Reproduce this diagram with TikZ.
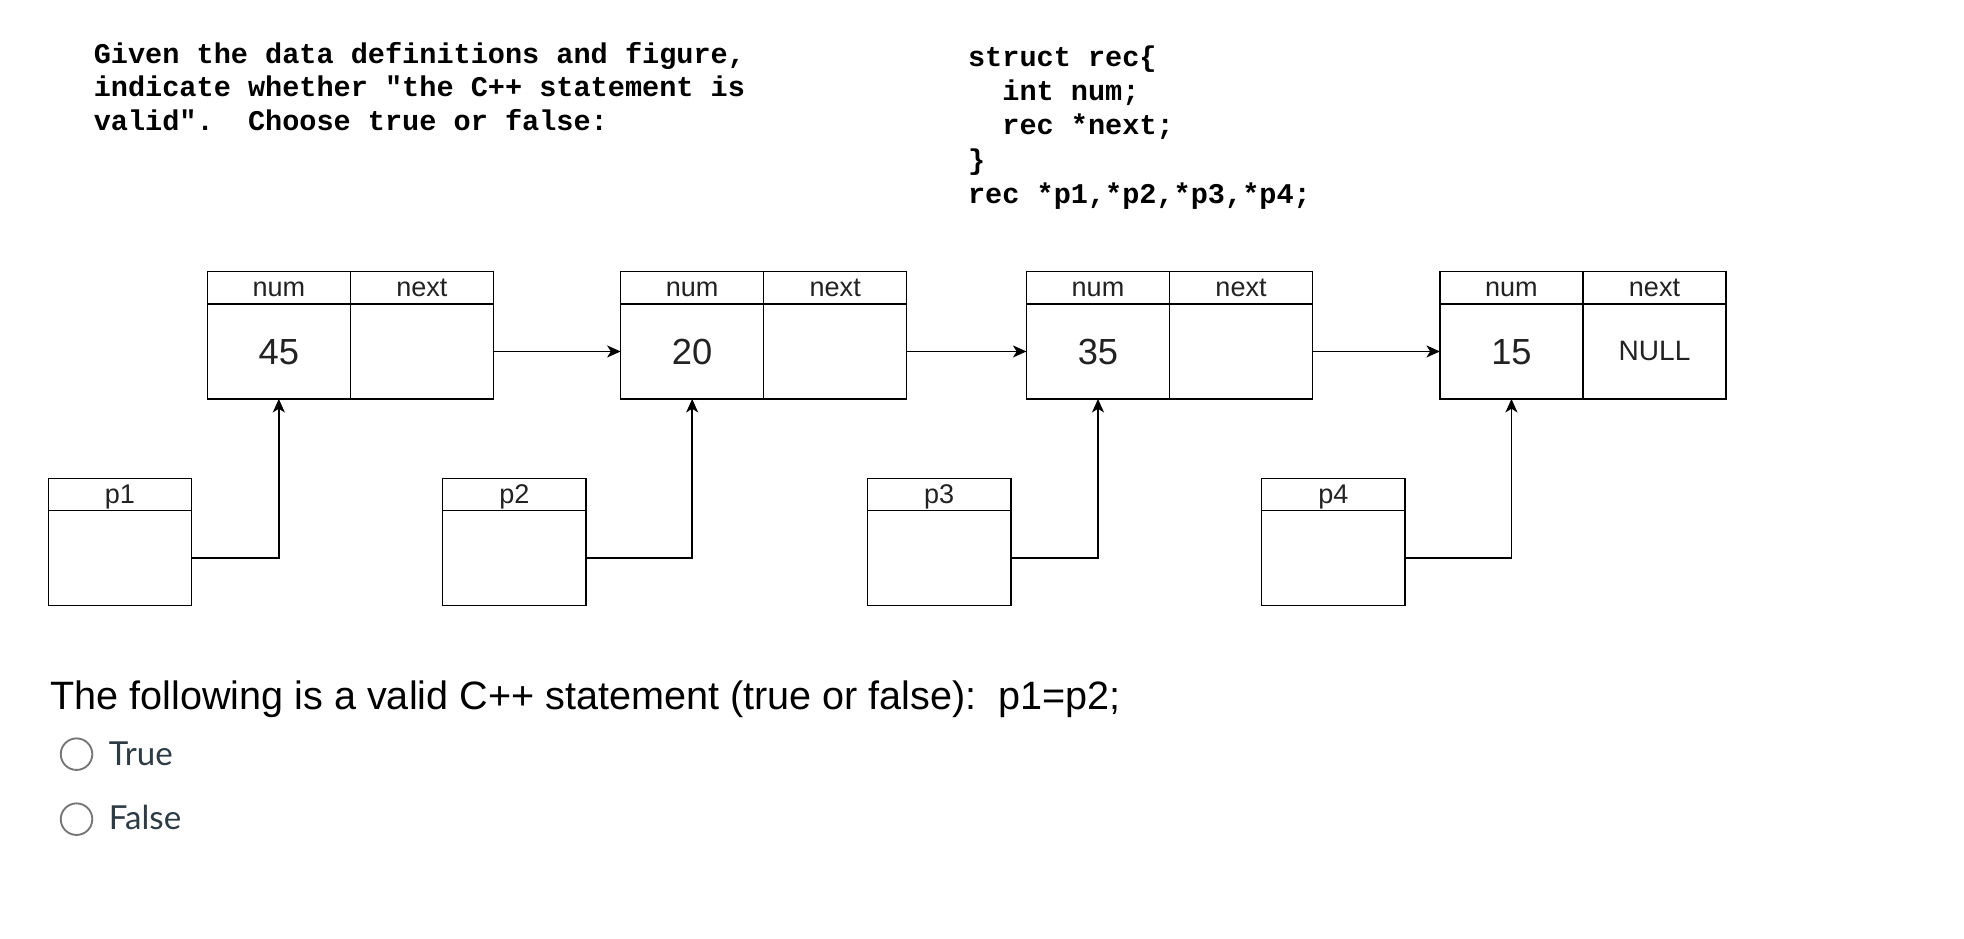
\documentclass[tikz,border=0pt]{standalone}
\usepackage{fontspec}
\setmainfont{Liberation Sans}
\newfontfamily\codefont{Liberation Mono}
\newfontfamily\latofont{Lato}
\usetikzlibrary{arrows.meta}
\definecolor{radiogray}{RGB}{118,118,118}
\definecolor{canvastext}{HTML}{2D3B45}
\definecolor{lbltext}{HTML}{222222}
\begin{document}
\begin{tikzpicture}[x=0.5pt,y=-0.5pt,
  cell/.style={draw, line width=0.55pt, inner sep=0pt, outer sep=0pt, minimum width=57.1pt},
  hcell/.style={cell, minimum height=12.9pt},
  bcell/.style={cell, minimum height=37.9pt},
  pcell/.style={draw, line width=0.55pt, inner sep=0pt, outer sep=0pt, minimum width=57.2pt},
  phcell/.style={pcell, minimum height=12.9pt},
  pbcell/.style={pcell, minimum height=37.9pt},
  lbl/.style={inner sep=0pt, anchor=base, text=lbltext, font=\fontsize{10.8}{12}\selectfont},
  val/.style={inner sep=0pt, anchor=base, text=lbltext, font=\fontsize{14.5}{16}\selectfont},
  nullval/.style={inner sep=0pt, anchor=base, text=lbltext, font=\fontsize{11.2}{13}\selectfont},
  code/.style={inner sep=0pt, anchor=base west, font=\codefont\bfseries\fontsize{11.4}{13}\selectfont},
  stmt/.style={inner sep=0pt, anchor=base west, font=\fontsize{15.8}{18}\selectfont},
  opt/.style={inner sep=0pt, anchor=base west, text=canvastext, font=\latofont\fontsize{13.2}{15}\selectfont},
  radio/.style={circle, draw=radiogray, line width=0.75pt, inner sep=0pt, minimum size=12.6pt},
  arr/.style={line width=0.55pt, -{Stealth[length=5.4pt, width=4.8pt, inset=1.5pt]}},
  conn/.style={line width=0.55pt}
]
\useasboundingbox (0,0) rectangle (1568,748.9);

% problem text
\node[code] (q1) at (74.5,50.6) {Given the data definitions and figure,};
\node[code] (q2) at (74.5,77.2) {indicate whether "the C++ statement is};
\node[code] (q3) at (74.5,103.8) {valid".\ \ Choose true or false:};

% struct definition
\node[code] (s1) at (772.5,52.7) {struct rec\{};
\node[code] (s2) at (799.9,80.2) {int num;};
\node[code] (s3) at (799.9,107.7) {rec *next;};
\node[code] (s4) at (772.5,135.1) {\}};
\node[code] (s5) at (772.5,162.5) {rec *p1,*p2,*p3,*p4;};

% records
\foreach \i/\L/\v in {1/165.5/45, 2/495.5/20, 3/819.5/35, 4/1149.6/15}{
  \node[hcell] (hn\i) at (\L+57.1,229.8) {};
  \node[hcell] (hx\i) at (\L+171.3,229.8) {};
  \node[bcell] (vn\i) at (\L+57.1,280.6) {};
  \node[bcell] (vx\i) at (\L+171.3,280.6) {};
  \node[lbl] (tn\i) at (\L+57.1,236.8) {num};
  \node[lbl] (tx\i) at (\L+171.3,236.8) {next};
  \node[val] (tv\i) at (\L+57.1,291.4) {\v};
}
\node[nullval] (tnull) at (1149.6+171.3,288.2) {NULL};

% pointer boxes
\foreach \i/\P in {1/38.6, 2/353.5, 3/692.6, 4/1007.3}{
  \node[phcell] (ph\i) at (\P+57.2,394.8) {};
  \node[pbcell] (pb\i) at (\P+57.2,445.6) {};
  \node[lbl] (tp\i) at (\P+57.2,401.8) {p\i};
  \draw[arr] (pb\i.east) -| (vn\i.south);
}

% next links
\draw[arr] (vx1.east) -- (vn2.west);
\draw[arr] (vx2.east) -- (vn3.west);
\draw[arr] (vx3.east) -- (vn4.west);

% question
\node[stmt] (st) at (39.9,566.8) {The following is a valid C++ statement (true or false):\ \ p1=p2;};
\node[radio] (r1) at (61.1,602.1) {};
\node[opt] (o1) at (86.5,611.5) {True};
\node[radio] (r2) at (61.1,654.0) {};
\node[opt] (o2) at (86.5,662.6) {False};
\end{tikzpicture}
\end{document}
